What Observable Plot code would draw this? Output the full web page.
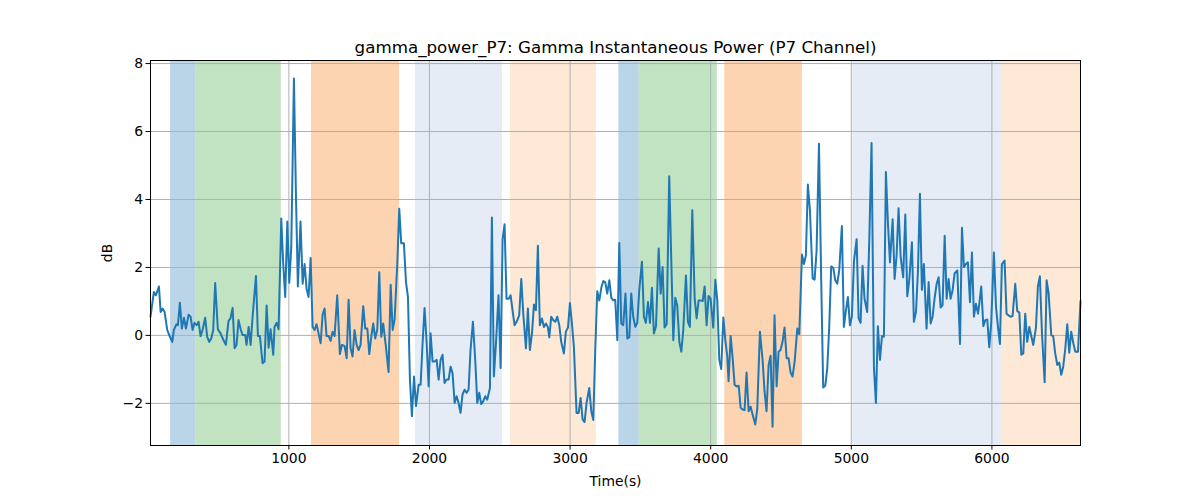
<!DOCTYPE html>
<html>
<head>
<meta charset="utf-8">
<script src="https://cdn.jsdelivr.net/npm/d3@7"></script>
<script src="https://cdn.jsdelivr.net/npm/@observablehq/plot@0.6"></script>
<style>
  html, body { margin: 0; padding: 0; background: #fff; }
  #chart { width: 1200px; height: 500px; }
</style>
</head>
<body>
<div id="chart"></div>
<script>
const times = [16,40,54,76,88,102,116,135,154,171,182,201,211,225,239,254,268,287,301,315,329,344,358,372,386,405,419,434,448,462,476,495,514,533,552,571,585,600,614,628,642,657,671,690,699,714,728,742,766,780,794,813,827,842,856,870,889,898,913,927,946,960,974,989,1003,1017,1036,1050,1064,1083,1098,1112,1126,1140,1155,1169,1183,1197,1211,1226,1240,1254,1268,1283,1297,1311,1325,1344,1363,1377,1396,1411,1425,1439,1453,1467,1482,1496,1510,1529,1543,1558,1572,1586,1600,1614,1629,1643,1657,1671,1690,1709,1724,1738,1752,1771,1785,1799,1818,1833,1847,1861,1875,1890,1904,1923,1937,1951,1965,1980,1994,2008,2022,2037,2051,2065,2079,
2093,2107,2122,2136,2150,2164,2179,2193,2207,2221,2235,2250,2264,2278,2292,2309,2326,2340,2354,2368,2382,2397,2411,2430,2444,2458,2473,2491,2506,2520,2534,2548,2563,2577,2591,2605,2620,2638,2653,2667,2686,2700,2714,2729,2743,2757,2771,2785,2800,2814,2828,2842,2852,2866,2880,2895,2909,2923,2937,2956,2970,2985,2999,3013,3027,3046,3061,3075,3089,3103,3117,3136,3151,3165,3179,3193,3208,3222,3236,3250,3264,3279,3293,3307,3321,3336,3350,3364,3378,3394,3407,3421,3435,3449,3464,3478,3492,3511,3525,3539,3554,3568,3582,3596,3611,3630,3644,3658,3672,3687,3705,3720,3734,3748,3762,3777,3791,3805,3824,3838,3852,3869,3886,3900,3914,3928,3943,3957,3971,3985,3999,4018,4033,4047,4061,4075,4090,4104,4118,4127,4142,4156,4170,4184,4199,4213,4227,4241,4255,4270,4284,4298,4317,4331,4350,
4369,4383,4397,4412,4426,4440,4454,4469,4483,4497,4511,4525,4540,4554,4568,4582,4597,4616,4630,4649,4663,4677,4691,4706,4725,4739,4753,4770,4786,4800,4815,4829,4843,4857,4872,4886,4900,4914,4933,4947,4962,4976,4990,5004,5019,5038,5052,5066,5080,5094,5113,5128,5144,5161,5175,5189,5204,5218,5232,5246,5260,5275,5294,5308,5322,5336,5351,5369,5384,5398,5412,5431,5445,5460,5474,5488,5502,5516,5535,5550,5564,5578,5592,5607,5621,5635,5649,5664,5678,5692,5706,5720,5735,5754,5773,5787,5801,5815,5829,5844,5858,5872,5886,5901,5910,5924,5939,5953,5967,5981,5995,6014,6029,6043,6057,6071,6090,6104,6119,6133,6147,6166,6180,6195,6209,6223,6237,6251,6266,6280,6294,6313,6327,6341,6356,6375,6389,6403,6422,6436,6450,6465,6479,6493,6507,6522,6536,6550,6564,6579,6593,6612,6630];

const power = [0.55,1.28,1.18,1.44,0.69,0.79,0.69,0.16,-0.04,-0.19,0.16,0.33,0.30,0.96,0.20,0.52,0.20,0.61,0.55,0.16,0.37,0.30,0.40,-0.02,0.16,0.52,-0.04,-0.19,-0.09,0.16,1.54,0.18,0.06,-0.12,-0.28,0.43,0.50,0.81,-0.38,-0.28,0.45,0.18,0.01,0.01,-0.28,0.25,-0.28,0.55,1.75,-0.02,-0.02,-0.82,-0.77,0.88,-0.36,0.18,-0.57,0.25,0.37,0.18,3.44,2.10,1.13,3.35,1.55,2.59,7.56,4.2,1.44,3.35,1.52,2.10,1.37,1.13,2.28,0.25,0.16,0.33,0.06,-0.23,0.61,0.79,-0.02,-0.02,-0.16,0.11,-0.02,1.18,-0.55,-0.28,-0.31,-0.67,1.05,-0.38,-0.62,0.16,-0.28,-0.43,-0.28,0.86,0.20,0.20,-0.55,-0.04,0.35,-0.09,0.18,1.86,-0.04,0.35,-0.33,-1.08,1.49,0.16,0.47,2.10,3.73,2.71,2.71,1.57,1.13,-1.30,-2.38,-1.21,-2.08,-1.45,-1.45,-0.23,0.81,-0.23,-1.50,0.06,-0.77,-0.77,-0.72,-1.30,-0.72,
-0.57,-1.40,-1.30,-1.30,-0.92,-1.11,-1.99,-1.79,-1.99,-2.28,-1.74,-1.60,-1.69,-1.60,-0.43,0.40,-0.77,-1.99,-1.69,-2.02,-1.94,-1.79,-1.89,-1.55,3.47,-1.21,-0.23,1.18,-0.96,2.83,3.27,1.08,1.08,1.18,0.74,0.30,0.40,0.59,1.66,0.64,-0.38,0.79,-0.43,0.06,0.91,0.74,2.64,0.30,0.50,0.25,0.35,0.25,-0.06,0.55,0.45,0.40,0.55,0.30,-0.19,-0.53,0.11,0.23,0.95,0.35,-0.33,-2.28,-2.28,-1.84,-2.47,-2.55,-1.99,-1.55,-2.23,-2.49,-0.43,1.30,1.03,1.40,1.60,1.57,1.23,1.62,1.11,1.03,1.05,-0.14,2.72,0.35,0.30,1.23,-0.09,-0.06,1.23,0.55,0.25,0.37,1.34,2.17,0.55,0.37,0.98,0.37,1.40,0.06,0.27,2.56,1.23,2.01,0.23,0.33,4.68,2.15,-0.14,1.11,0.89,-0.19,-0.48,0.16,1.76,0.40,0.25,3.68,1.08,0.50,1.03,1.03,1.01,1.44,0.30,1.16,1.08,0.23,1.64,1.03,-0.72,-0.99,0.53,-0.14,-0.62,-1.35,-0.02,-0.67,-1.45,-1.50,-1.48,-2.13,-2.18,-2.20,-1.09,-2.23,-2.10,-2.33,-2.62,-2.18,0.11,
-0.72,-1.65,-2.23,-0.87,-0.60,-2.69,0.59,-1.50,-0.48,-0.43,-0.19,0.23,-0.67,-0.67,-1.09,-1.21,-0.77,0.20,0.04,2.38,2.10,2.35,4.44,3.66,1.68,1.64,2.49,5.64,1.62,-1.53,-1.48,-0.96,0.25,2.03,1.99,1.62,1.52,1.91,3.22,0.25,0.74,1.13,0.30,0.55,2.20,2.83,0.50,0.37,2.05,1.08,0.69,2.83,5.66,-0.96,-1.99,0.27,-0.72,-0.02,-0.04,4.81,3.35,2.15,3.42,1.66,2.35,3.74,2.30,1.71,3.56,1.15,1.62,2.74,0.40,0.69,1.91,4.17,1.34,2.10,0.20,1.57,0.35,0.55,1.08,1.52,1.71,0.82,0.89,2.93,1.08,1.66,1.08,1.32,1.83,1.91,-0.25,3.17,2.01,2.10,2.15,0.98,2.44,0.55,0.93,0.64,0.92,1.44,0.27,0.45,0.47,-0.35,0.37,2.44,0.84,0.25,-0.25,2.10,2.20,0.64,0.59,0.55,0.57,1.52,0.72,0.67,-0.57,-0.53,0.64,-0.19,0.25,-0.02,-0.28,0.22,1.44,1.74,0.06,-1.38,1.62,1.25,0.01,-0.02,-0.53,-0.87,-0.80,-1.16,-0.92,-0.38,0.33,-0.51,0.11,-0.23,-0.48,-0.48,1.01];

const spanStart = [159, 341, 1161, 1901, 2577, 3347, 3492, 4100, 5011, 6069];
const spanEnd   = [341, 946, 1787, 2518, 3186, 3492, 4047, 4652, 6069, 6630];
const spanPhase = ["A", "B", "C", "D", "E", "A", "B", "C", "D", "E"];

const xTicks = [1000, 2000, 3000, 4000, 5000, 6000];
const yTicks = [-2, 0, 2, 4, 6, 8];

const phaseColor = {A: "#bbd5e8", B: "#c1e3c1", C: "#fdd4b1", D: "#e5ecf6", E: "#fde9d6"};

const series = times.map((t, i) => ({t, v: power[i]}));
const spans = spanStart.map((s, i) => ({s, e: spanEnd[i], p: spanPhase[i]}));

const font = "DejaVu Sans, sans-serif";

const chart = Plot.plot({
  width: 1200,
  height: 500,
  marginLeft: 150,
  marginRight: 120,
  marginTop: 60,
  marginBottom: 55,
  style: {fontFamily: font, fontSize: "13.9px", color: "#000", background: "#fff"},
  x: {domain: [16, 6630], ticks: xTicks, tickFormat: d3.format("d")},
  y: {domain: [-3.24, 8.09], ticks: yTicks},
  marks: [
    Plot.rect(spans, {x1: "s", x2: "e", fill: d => phaseColor[d.p]}),
    Plot.gridX(xTicks, {stroke: "#b0b0b0", strokeOpacity: 1, strokeWidth: 1}),
    Plot.gridY(yTicks, {stroke: "#b0b0b0", strokeOpacity: 1, strokeWidth: 1}),
    Plot.line(series, {x: "t", y: "v", stroke: "#1f77b4", strokeWidth: 2}),
    Plot.frame({stroke: "#000", strokeWidth: 1}),
    Plot.axisX(xTicks, {tickSize: 4.5, tickPadding: 3, tickFormat: d3.format("d"), label: "Time(s)", labelAnchor: "center", labelArrow: "none", labelOffset: 40, fontSize: 13.9}),
    Plot.axisY(yTicks, {tickSize: 4.5, tickPadding: 3, label: "dB", labelAnchor: "center", labelArrow: "none", labelOffset: 48, fontSize: 13.9}),
    Plot.text(["gamma_power_P7: Gamma Instantaneous Power (P7 Channel)"], {frameAnchor: "top", dy: -8, fontSize: 16.7, fill: "#000", lineAnchor: "bottom"})
  ]
});

document.getElementById("chart").appendChild(chart);
</script>
</body>
</html>
